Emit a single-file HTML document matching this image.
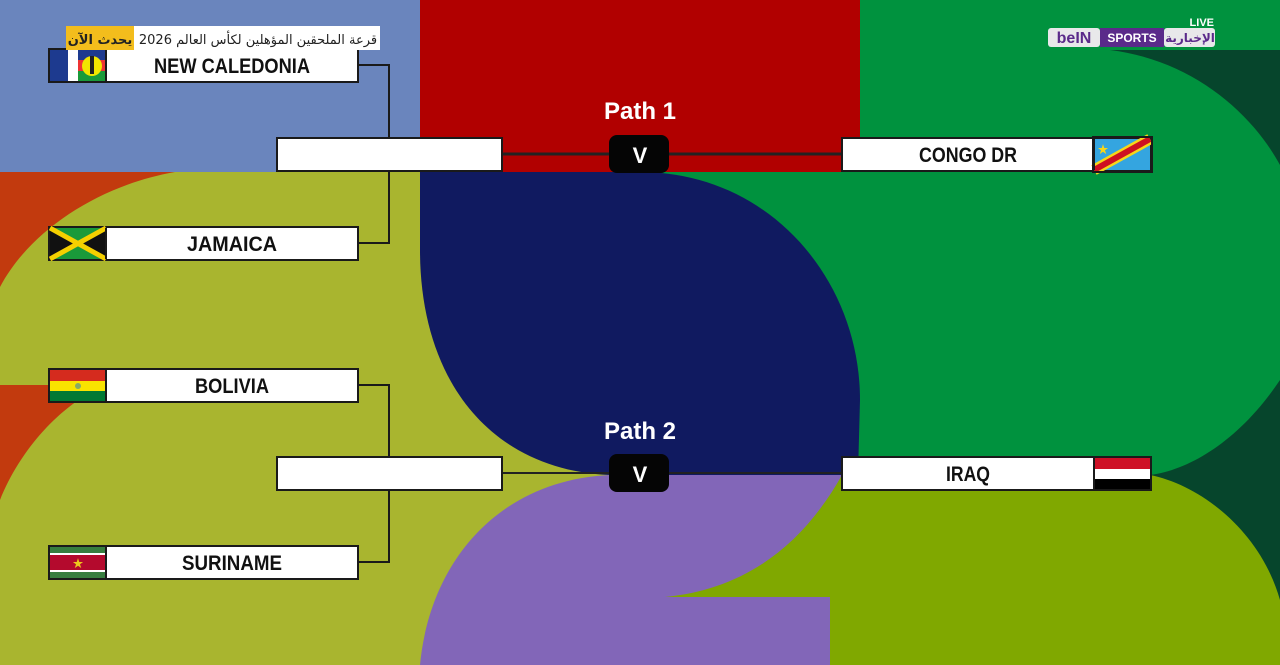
<!DOCTYPE html>
<html><head><meta charset="utf-8"><style>
html,body{margin:0;padding:0;width:1280px;height:665px;overflow:hidden;font-family:"Liberation Sans","Noto Sans CJK SC",sans-serif}
</style></head><body>
<svg width="1280" height="665" viewBox="0 0 1280 665" xmlns="http://www.w3.org/2000/svg" style="position:absolute;left:0;top:0">
<rect width="1280" height="665" fill="#06452c"/>
<path d="M640 0 H1280 V50 H1110 C1190 60 1250 110 1280 165 V380 C1240 440 1190 470 1150 475 H640 Z" fill="#00923e"/>
<rect x="420" y="0" width="440" height="172" fill="#b10000"/>
<rect x="0" y="0" width="420" height="172" fill="#6a85bd"/>
<rect x="0" y="172" width="640" height="493" fill="#a9b52f"/>
<path d="M0 172 H175 C100 185 30 230 0 287 Z" fill="#c23a0e"/>
<path d="M0 385 H105 C60 405 20 450 0 500 Z" fill="#c23a0e"/>
<path d="M620 475 H1150 C1200 485 1260 530 1280 600 V665 H620 Z" fill="#80a800"/>
<path d="M610 475 H842 C800 550 740 590 665 597 H830 V665 H420 C430 560 500 480 610 475 Z" fill="#8266b8"/>
<path d="M420 172 H640 C770 172 860 280 860 400 L858 475 H610 C490 470 420 380 420 250 Z" fill="#101a60"/>
<g stroke="#1a1a1a" stroke-width="2" fill="none">
<path d="M358 65 H389 V243 H358"/>
<path d="M358 385 H389 V562 H358"/>
<line x1="502" y1="154" x2="841" y2="154" stroke="#222" stroke-width="3"/>
<line x1="502" y1="473" x2="841" y2="473" stroke="#222" stroke-width="2"/>
</g>
<g stroke="#1a1a1a" stroke-width="2" fill="#fff">
<rect x="49" y="49" width="309" height="33"/>
<rect x="49" y="227" width="309" height="33"/>
<rect x="49" y="369" width="309" height="33"/>
<rect x="49" y="546" width="309" height="33"/>
<rect x="277" y="138" width="225" height="33"/>
<rect x="277" y="457" width="225" height="33"/>
<rect x="842" y="138" width="309" height="33"/>
<rect x="842" y="457" width="309" height="33"/>
</g>
<rect x="50" y="50" width="18" height="31" fill="#1d3a8f"/><rect x="68" y="50" width="10" height="31" fill="#fff"/><rect x="78" y="50" width="28" height="31" fill="#e33"/>
<rect x="78" y="50" width="28" height="10" fill="#1d3a8f"/><rect x="78" y="71" width="28" height="10" fill="#1a9a3a"/><circle cx="92" cy="66" r="10" fill="#f2e600"/><rect x="90" y="56" width="4" height="18" fill="#222"/>
<rect x="50" y="228" width="56" height="31" fill="#1a9a3a"/><polygon points="50,228 78,243.5 50,259" fill="#111"/><polygon points="106,228 78,243.5 106,259" fill="#111"/>
<path d="M50 228 L106 259 M106 228 L50 259" stroke="#f5d000" stroke-width="5"/>
<rect x="50" y="370" width="56" height="11" fill="#d52b1e"/><rect x="50" y="381" width="56" height="10" fill="#f9e300"/><rect x="50" y="391" width="56" height="10" fill="#007934"/><circle cx="78" cy="386" r="3" fill="#8a6"/>
<rect x="50" y="547" width="56" height="31" fill="#377e3f"/><rect x="50" y="553" width="56" height="19" fill="#fff"/><rect x="50" y="555" width="56" height="15" fill="#b40a2d"/><text x="78" y="567" font-size="11" fill="#ecc81d" text-anchor="middle">★</text>
<rect x="1094" y="139" width="56" height="31" fill="#34a5e0"/><path d="M1094 170 L1150 139" stroke="#f7d618" stroke-width="11"/><path d="M1094 170 L1150 139" stroke="#ce1021" stroke-width="6"/><text x="1103" y="153" font-size="11" fill="#f7d618" text-anchor="middle">★</text>
<rect x="1094" y="458" width="56" height="11" fill="#ce1126"/><rect x="1094" y="469" width="56" height="10" fill="#fff"/><rect x="1094" y="479" width="56" height="10" fill="#000"/>
<rect x="1093" y="137" width="59" height="35" fill="none" stroke="#1a1a1a" stroke-width="2"/>
<line x1="1094" y1="139" x2="1094" y2="170" stroke="#1a1a1a" stroke-width="2"/><line x1="1094" y1="458" x2="1094" y2="489" stroke="#1a1a1a" stroke-width="2"/>
<line x1="106" y1="50" x2="106" y2="81" stroke="#1a1a1a" stroke-width="2"/>
<line x1="106" y1="228" x2="106" y2="259" stroke="#1a1a1a" stroke-width="2"/>
<line x1="106" y1="370" x2="106" y2="401" stroke="#1a1a1a" stroke-width="2"/>
<line x1="106" y1="547" x2="106" y2="578" stroke="#1a1a1a" stroke-width="2"/>
<g font-family="Liberation Sans Narrow, Liberation Sans, sans-serif" font-weight="bold" font-size="21" fill="#111" text-anchor="middle">
<text x="232" y="73" textLength="156" lengthAdjust="spacingAndGlyphs">NEW CALEDONIA</text>
<text x="232" y="251" textLength="90" lengthAdjust="spacingAndGlyphs">JAMAICA</text>
<text x="232" y="393" textLength="74" lengthAdjust="spacingAndGlyphs">BOLIVIA</text>
<text x="232" y="570" textLength="100" lengthAdjust="spacingAndGlyphs">SURINAME</text>
<text x="968" y="162" textLength="98" lengthAdjust="spacingAndGlyphs">CONGO DR</text>
<text x="968" y="481" textLength="44" lengthAdjust="spacingAndGlyphs">IRAQ</text>
</g>
<g font-weight="bold" fill="#fff" text-anchor="middle">
<text x="640" y="119" font-size="24">Path 1</text>
<text x="640" y="439" font-size="24">Path 2</text>
</g>
<rect x="609" y="135" width="60" height="38" rx="8" fill="#050505"/>
<rect x="609" y="454" width="60" height="38" rx="8" fill="#050505"/>
<text x="640" y="163" font-size="22" font-weight="bold" fill="#fff" text-anchor="middle">V</text>
<text x="640" y="482" font-size="22" font-weight="bold" fill="#fff" text-anchor="middle">V</text>
<rect x="66" y="26" width="314" height="24" fill="#fff"/>
<rect x="66" y="26" width="68" height="24" fill="#f3bd1c"/>
<text x="100" y="44" font-size="13" font-weight="bold" fill="#222" text-anchor="middle" font-family="DejaVu Sans, sans-serif">يحدث الآن</text>
<text x="258" y="44" font-size="13" fill="#222" text-anchor="middle" font-family="DejaVu Sans, sans-serif">قرعة الملحقين المؤهلين لكأس العالم 2026</text>
<text x="1214" y="26" font-size="11" font-weight="bold" fill="#fff" text-anchor="end">LIVE</text>
<rect x="1048" y="28" width="52" height="19" rx="3" fill="#e8e8ea"/>
<rect x="1100" y="28" width="64" height="19" fill="#5a2a8a"/>
<rect x="1164" y="28" width="51" height="19" rx="3" fill="#e8e8ea"/>
<text x="1074" y="43" font-size="16" font-weight="bold" fill="#5a2a8a" text-anchor="middle">beIN</text>
<text x="1132" y="42" font-size="12" font-weight="bold" fill="#fff" text-anchor="middle">SPORTS</text>
<text x="1190" y="42" font-size="12" font-weight="bold" fill="#5a2a8a" text-anchor="middle" font-family="DejaVu Sans, sans-serif">الإخبارية</text>
</svg>
</body></html>
